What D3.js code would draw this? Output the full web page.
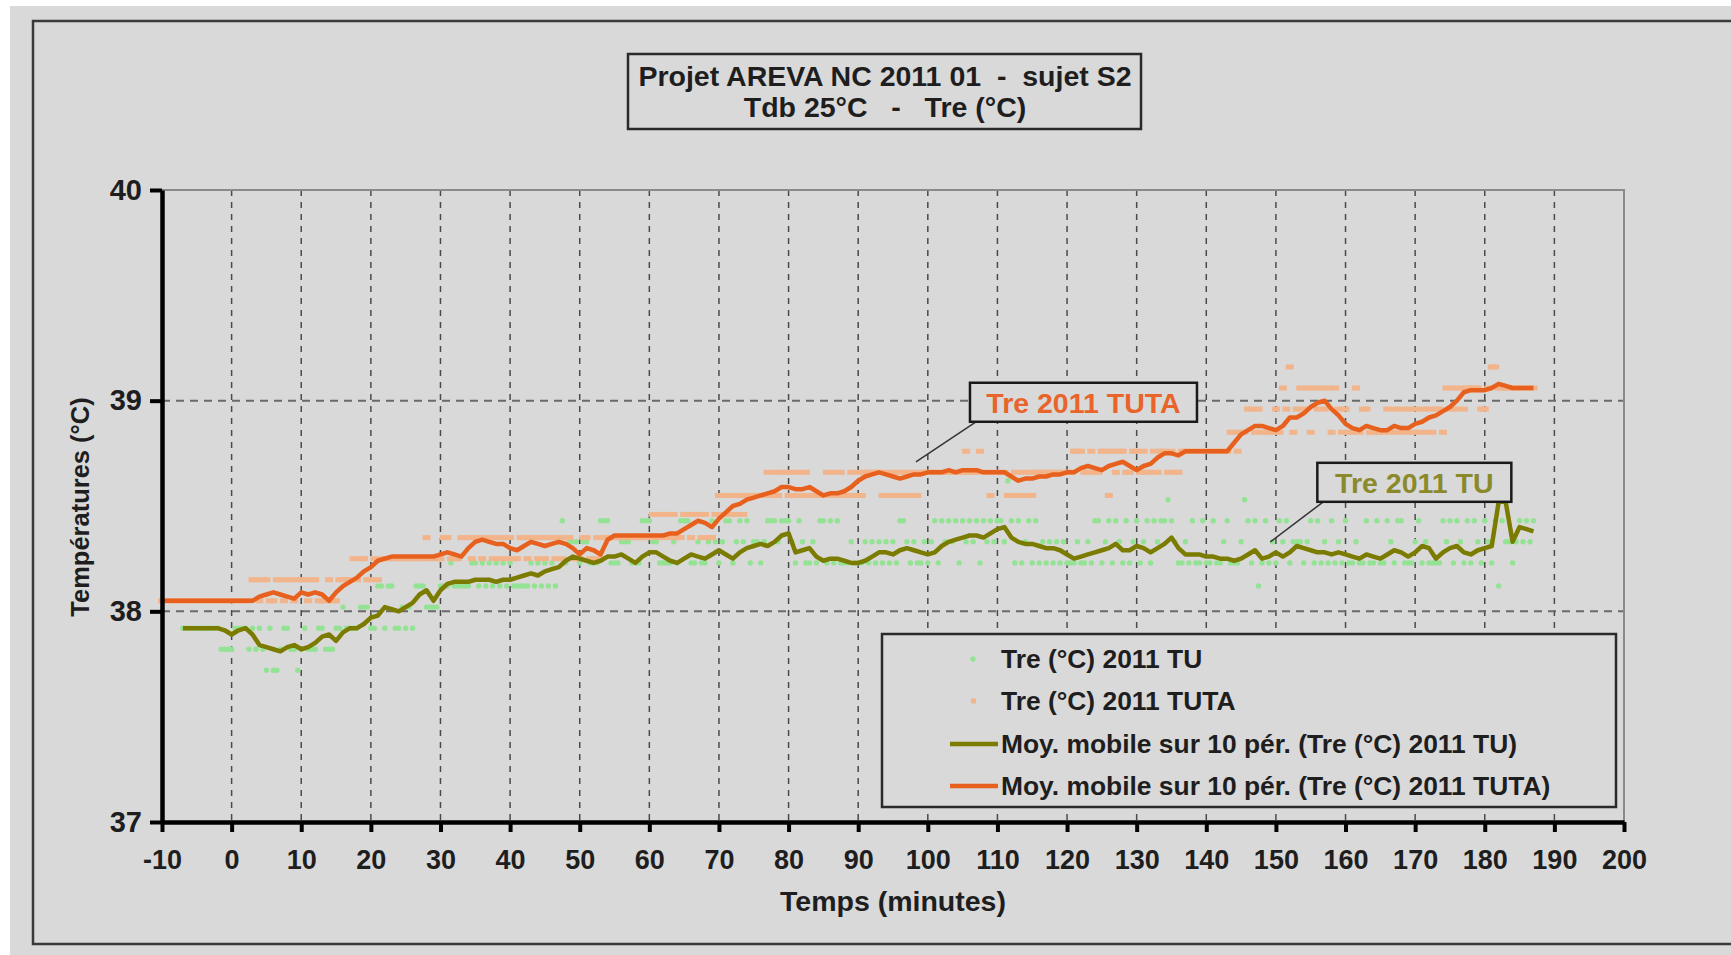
<!DOCTYPE html>
<html>
<head>
<meta charset="utf-8">
<script src="https://cdnjs.cloudflare.com/ajax/libs/d3/7.8.5/d3.min.js"></script>
<style>
  body { margin: 0; background: #fff; }
  svg text { font-family: "Liberation Sans", Arial, sans-serif; font-weight: bold; fill: #1e1e1e; }
</style>
</head>
<body>
<div id="vis"></div>
<script>
// moving averages, one value per minute
const tuAvgStart = -7;
const tuAvg = [
  37.92, 37.92, 37.92, 37.92, 37.92, 37.92, 37.91, 37.89, 37.91, 37.92,
  37.89, 37.84, 37.83, 37.82, 37.81, 37.83, 37.84, 37.82, 37.83, 37.85,
  37.88, 37.89, 37.86, 37.90, 37.92, 37.92, 37.94, 37.97, 37.98, 38.02,
  38.01, 38.00, 38.02, 38.04, 38.08, 38.10, 38.05, 38.10, 38.13, 38.14,
  38.14, 38.14, 38.15, 38.15, 38.15, 38.14, 38.15, 38.15, 38.16, 38.17,
  38.18, 38.17, 38.19, 38.20, 38.21, 38.24, 38.26, 38.25, 38.24, 38.23,
  38.24, 38.26, 38.26, 38.27, 38.25, 38.23, 38.26, 38.28, 38.28, 38.26,
  38.24, 38.23, 38.25, 38.27, 38.26, 38.25, 38.27, 38.29, 38.27, 38.25,
  38.28, 38.30, 38.31, 38.32, 38.31, 38.33, 38.36, 38.37, 38.28, 38.29,
  38.30, 38.26, 38.24, 38.25, 38.25, 38.24, 38.23, 38.23, 38.24, 38.26,
  38.28, 38.28, 38.27, 38.29, 38.30, 38.29, 38.28, 38.27, 38.28, 38.31,
  38.33, 38.34, 38.35, 38.36, 38.36, 38.35, 38.37, 38.39, 38.40, 38.35,
  38.33, 38.32, 38.32, 38.31, 38.30, 38.30, 38.29, 38.27, 38.25, 38.26,
  38.27, 38.28, 38.29, 38.30, 38.32, 38.29, 38.29, 38.31, 38.30, 38.28,
  38.30, 38.32, 38.35, 38.30, 38.27, 38.27, 38.27, 38.26, 38.26, 38.25,
  38.25, 38.24, 38.25, 38.27, 38.29, 38.25, 38.26, 38.28, 38.26, 38.28,
  38.31, 38.30, 38.29, 38.28, 38.28, 38.27, 38.28, 38.27, 38.26, 38.25,
  38.27, 38.26, 38.25, 38.27, 38.29, 38.28, 38.26, 38.28, 38.31, 38.30,
  38.25, 38.28, 38.30, 38.31, 38.28, 38.27, 38.29, 38.30, 38.31, 38.52,
  38.52, 38.33, 38.40, 38.39, 38.38
];

const tutaAvgStart = -10;
const tutaAvg = [
  38.05, 38.05, 38.05, 38.05, 38.05, 38.05, 38.05, 38.05, 38.05, 38.05,
  38.05, 38.05, 38.05, 38.05, 38.07, 38.08, 38.09, 38.08, 38.07, 38.06,
  38.09, 38.08, 38.09, 38.08, 38.05, 38.09, 38.12, 38.14, 38.16, 38.19,
  38.21, 38.24, 38.25, 38.26, 38.26, 38.26, 38.26, 38.26, 38.26, 38.26,
  38.27, 38.28, 38.27, 38.26, 38.30, 38.33, 38.34, 38.33, 38.32, 38.32,
  38.30, 38.29, 38.31, 38.33, 38.32, 38.31, 38.32, 38.33, 38.32, 38.30,
  38.27, 38.30, 38.29, 38.27, 38.34, 38.36, 38.36, 38.36, 38.36, 38.36,
  38.36, 38.36, 38.36, 38.37, 38.37, 38.39, 38.41, 38.43, 38.42, 38.40,
  38.44, 38.47, 38.50, 38.51, 38.53, 38.54, 38.55, 38.56, 38.57, 38.59,
  38.59, 38.58, 38.58, 38.59, 38.57, 38.55, 38.56, 38.56, 38.57, 38.59,
  38.62, 38.64, 38.65, 38.66, 38.65, 38.64, 38.63, 38.64, 38.65, 38.65,
  38.66, 38.66, 38.66, 38.67, 38.66, 38.67, 38.67, 38.67, 38.66, 38.66,
  38.66, 38.66, 38.64, 38.62, 38.63, 38.63, 38.64, 38.64, 38.65, 38.65,
  38.66, 38.66, 38.68, 38.69, 38.68, 38.67, 38.69, 38.70, 38.71, 38.69,
  38.67, 38.69, 38.70, 38.73, 38.75, 38.75, 38.74, 38.76, 38.76, 38.76,
  38.76, 38.76, 38.76, 38.76, 38.80, 38.84, 38.86, 38.88, 38.88, 38.87,
  38.86, 38.88, 38.92, 38.92, 38.94, 38.97, 38.99, 39.00, 38.96, 38.93,
  38.89, 38.87, 38.86, 38.88, 38.87, 38.86, 38.86, 38.88, 38.87, 38.87,
  38.89, 38.90, 38.92, 38.93, 38.95, 38.97, 39.00, 39.04, 39.05, 39.05,
  39.05, 39.06, 39.08, 39.07, 39.06, 39.06, 39.06, 39.06
];

// raw readings, one every half minute
const rawStep = 0.5;
const tuRawStart = -7;
const tuRaw = [
  37.92, 37.92, 37.92, 37.92, 37.92, 37.92, 37.92, 37.92, 37.92, 37.92,
  37.92, 37.82, 37.82, 37.82, 37.82, 37.92, 37.92, 37.92, 37.92, 37.82,
  37.92, 37.82, 37.92, 37.82, 37.72, 37.92, 37.72, 37.72, 37.82, 37.92,
  37.92, 37.82, 37.82, 37.72, 37.82, 37.92, 37.82, 37.82, 37.82, 37.92,
  37.92, 37.82, 37.82, 37.82, 37.92, 37.92, 38.02, 37.92, 37.92, 37.92,
  37.92, 38.02, 38.02, 38.02, 37.92, 37.92, 38.12, 38.12, 37.92, 38.12,
  38.12, 37.92, 37.92, 38.02, 37.92, 38.02, 37.92, 38.12, 38.12, 38.12,
  38.02, 38.02, 38.02, 38.02, 38.12, 38.12, 38.12, 38.23, 38.12, 38.12,
  38.12, 38.12, 38.12, 38.23, 38.23, 38.12, 38.23, 38.12, 38.23, 38.12,
  38.23, 38.12, 38.23, 38.12, 38.23, 38.12, 38.12, 38.12, 38.12, 38.12,
  38.23, 38.12, 38.23, 38.12, 38.23, 38.12, 38.23, 38.12, 38.33, 38.43,
  38.23, 38.33, 38.33, 38.33, 38.23, 38.33, 38.33, 38.23, 38.23, 38.23,
  38.43, 38.43, 38.43, 38.23, 38.23, 38.23, 38.33, 38.33, 38.33, 38.23,
  38.23, 38.23, 38.43, 38.43, 38.43, 38.33, 38.33, 38.23, 38.23, 38.23,
  38.23, 38.33, 38.23, 38.43, 38.43, 38.43, 38.23, 38.23, 38.33, 38.23,
  38.23, 38.33, 38.43, 38.33, 38.23, 38.33, 38.43, 38.43, 38.23, 38.33,
  38.43, 38.33, 38.43, 38.23, 38.33, 38.33, 38.23, 38.33, 38.43, 38.43,
  38.43, 38.33, 38.43, 38.43, 38.43, 38.33, 38.23, 38.43, 38.33, 38.23,
  38.23, 38.33, 38.23, 38.43, 38.43, 38.23, 38.43, 38.23, 38.43, 38.23,
  38.23, 38.23, 38.33, 38.23, 38.23, 38.23, 38.33, 38.23, 38.33, 38.23,
  38.33, 38.23, 38.33, 38.23, 38.33, 38.23, 38.43, 38.43, 38.33, 38.23,
  38.33, 38.23, 38.23, 38.33, 38.23, 38.33, 38.43, 38.23, 38.43, 38.33,
  38.43, 38.33, 38.43, 38.23, 38.43, 38.33, 38.43, 38.33, 38.43, 38.23,
  38.43, 38.33, 38.43, 38.33, 38.43, 38.43, 38.33, 38.62, 38.43, 38.23,
  38.43, 38.23, 38.33, 38.43, 38.23, 38.43, 38.23, 38.33, 38.23, 38.33,
  38.23, 38.33, 38.23, 38.33, 38.23, 38.23, 38.23, 38.33, 38.23, 38.23,
  38.33, 38.23, 38.43, 38.43, 38.23, 38.33, 38.43, 38.23, 38.43, 38.33,
  38.23, 38.43, 38.23, 38.33, 38.43, 38.23, 38.33, 38.43, 38.23, 38.43,
  38.33, 38.43, 38.43, 38.53, 38.43, 38.33, 38.23, 38.23, 38.33, 38.23,
  38.43, 38.23, 38.23, 38.43, 38.23, 38.23, 38.43, 38.23, 38.23, 38.33,
  38.43, 38.23, 38.23, 38.23, 38.33, 38.53, 38.43, 38.23, 38.43, 38.12,
  38.23, 38.43, 38.23, 38.33, 38.23, 38.43, 38.33, 38.43, 38.23, 38.33,
  38.33, 38.33, 38.23, 38.33, 38.43, 38.23, 38.43, 38.23, 38.33, 38.23,
  38.43, 38.23, 38.33, 38.23, 38.43, 38.23, 38.23, 38.33, 38.23, 38.23,
  38.43, 38.23, 38.23, 38.43, 38.23, 38.23, 38.43, 38.33, 38.23, 38.43,
  38.43, 38.23, 38.23, 38.23, 38.33, 38.43, 38.23, 38.33, 38.23, 38.23,
  38.23, 38.23, 38.43, 38.33, 38.43, 38.23, 38.43, 38.33, 38.23, 38.43,
  38.23, 38.43, 38.33, 38.23, 38.43, 38.33, 38.23, 38.43, 38.12, 38.43,
  38.33, 38.33, 38.23, 38.33, 38.43, 38.33, 38.43, 38.33, 38.43
];

const tutaRawStart = -10;
const tutaRaw = [
  38.05, 38.05, 38.05, 38.05, 38.05, 38.05, 38.05, 38.05, 38.05, 38.05,
  38.05, 38.05, 38.05, 38.05, 38.05, 38.05, 38.05, 38.05, 38.05, 38.05,
  38.05, 38.05, 38.05, 38.05, 38.05, 38.05, 38.15, 38.15, 38.05, 38.15,
  38.15, 38.05, 38.05, 38.15, 38.15, 38.05, 38.15, 38.15, 38.05, 38.15,
  38.15, 38.15, 38.05, 38.15, 38.15, 38.05, 38.05, 38.05, 38.15, 38.05,
  38.05, 38.15, 38.15, 38.15, 38.15, 38.25, 38.15, 38.25, 38.25, 38.15,
  38.15, 38.25, 38.15, 38.25, 38.25, 38.25, 38.25, 38.25, 38.25, 38.25,
  38.25, 38.25, 38.25, 38.25, 38.25, 38.25, 38.35, 38.25, 38.25, 38.25,
  38.25, 38.35, 38.35, 38.25, 38.25, 38.25, 38.35, 38.35, 38.35, 38.25,
  38.35, 38.35, 38.25, 38.35, 38.35, 38.25, 38.35, 38.25, 38.35, 38.25,
  38.35, 38.25, 38.25, 38.35, 38.35, 38.25, 38.35, 38.35, 38.25, 38.35,
  38.25, 38.35, 38.35, 38.25, 38.35, 38.25, 38.35, 38.35, 38.25, 38.25,
  38.25, 38.35, 38.35, 38.25, 38.25, 38.35, 38.25, 38.35, 38.35, 38.35,
  38.35, 38.35, 38.35, 38.35, 38.35, 38.35, 38.35, 38.35, 38.35, 38.35,
  38.35, 38.46, 38.35, 38.46, 38.35, 38.46, 38.35, 38.46, 38.35, 38.35,
  38.46, 38.46, 38.35, 38.46, 38.46, 38.35, 38.46, 38.35, 38.35, 38.46,
  38.55, 38.46, 38.55, 38.46, 38.55, 38.46, 38.55, 38.46, 38.55, 38.55,
  38.55, 38.55, 38.55, 38.55, 38.66, 38.55, 38.66, 38.55, 38.66, 38.66,
  38.55, 38.66, 38.55, 38.66, 38.55, 38.66, 38.55, 38.55, 38.55, 38.55,
  38.55, 38.66, 38.55, 38.66, 38.55, 38.66, 38.55, 38.55, 38.66, 38.55,
  38.66, 38.55, 38.66, 38.66, 38.66, 38.66, 38.66, 38.55, 38.66, 38.55,
  38.66, 38.55, 38.66, 38.55, 38.66, 38.55, 38.66, 38.55, 38.66, 38.66,
  38.66, 38.66, 38.66, 38.66, 38.66, 38.66, 38.66, 38.66, 38.66, 38.66,
  38.66, 38.76, 38.66, 38.66, 38.66, 38.76, 38.66, 38.66, 38.55, 38.66,
  38.66, 38.66, 38.66, 38.55, 38.55, 38.66, 38.55, 38.66, 38.55, 38.66,
  38.55, 38.66, 38.66, 38.66, 38.66, 38.66, 38.66, 38.66, 38.66, 38.66,
  38.66, 38.66, 38.76, 38.76, 38.76, 38.66, 38.66, 38.76, 38.66, 38.66,
  38.76, 38.76, 38.55, 38.76, 38.66, 38.76, 38.76, 38.66, 38.66, 38.76,
  38.76, 38.66, 38.76, 38.66, 38.66, 38.76, 38.66, 38.76, 38.76, 38.66,
  38.76, 38.66, 38.66, 38.76, 38.76, 38.76, 38.76, 38.76, 38.76, 38.76,
  38.76, 38.76, 38.76, 38.76, 38.76, 38.76, 38.76, 38.85, 38.85, 38.76,
  38.85, 38.85, 38.96, 38.96, 38.85, 38.96, 38.85, 38.85, 38.85, 38.85,
  38.96, 38.85, 39.06, 38.96, 39.16, 38.85, 38.96, 39.06, 38.96, 39.06,
  38.85, 39.06, 38.96, 39.06, 38.96, 39.06, 38.85, 39.06, 38.96, 38.85,
  38.96, 38.85, 38.85, 39.06, 38.85, 38.96, 38.96, 38.85, 38.85, 38.85,
  38.85, 38.85, 38.96, 38.85, 38.96, 38.85, 38.96, 38.85, 38.96, 38.85,
  38.96, 38.85, 38.96, 38.85, 38.96, 38.85, 38.96, 38.96, 38.85, 39.06,
  38.96, 39.06, 38.96, 39.06, 38.96, 39.06, 39.06, 39.06, 39.06, 38.96,
  38.96, 39.06, 39.16, 39.16, 39.06, 39.06, 39.06, 39.06, 39.06, 39.06,
  39.06, 39.06, 39.06, 39.06, 39.06
];

const xTicks = [-10, 0, 10, 20, 30, 40, 50, 60, 70, 80, 90, 100, 110, 120, 130, 140, 150, 160, 170, 180, 190, 200];
const yTicks = [37, 38, 39, 40];
const titleLines = ["Projet AREVA NC 2011 01  -  sujet S2", "Tdb 25°C   -   Tre (°C)"];
const legendLabels = [
  "Tre (°C) 2011 TU",
  "Tre (°C) 2011 TUTA",
  "Moy. mobile sur 10 pér. (Tre (°C) 2011 TU)",
  "Moy. mobile sur 10 pér. (Tre (°C) 2011 TUTA)"
];
const calloutLabels = ["Tre 2011 TUTA", "Tre 2011 TU"];

const colors = {
  tuDot: "#94e294",
  tutaDot: "#f2b48a",
  tuLine: "#7b7b00",
  tutaLine: "#e8601e"
};

const W = 1731, H = 955;
const svg = d3.select("#vis").append("svg").attr("width", W).attr("height", H);

// background + outer frame
svg.append("rect").attr("x", 10).attr("y", 6).attr("width", W - 10).attr("height", H - 6).attr("fill", "#d9d9d9");
svg.append("rect").attr("x", 33).attr("y", 21).attr("width", W).attr("height", 923)
  .attr("fill", "none").attr("stroke", "#3a3a3a").attr("stroke-width", 2.5);

const x = d3.scaleLinear().domain([-10, 200]).range([162, 1624]);
const y = d3.scaleLinear().domain([37, 40]).range([822, 190]);

// grid
svg.append("g").selectAll("line")
  .data(xTicks.filter(t => t > -10 && t < 200))
  .enter().append("line")
  .attr("x1", d => x(d)).attr("x2", d => x(d))
  .attr("y1", y(40)).attr("y2", y(37))
  .attr("stroke", "#4a4a4a").attr("stroke-width", 1.5).attr("stroke-dasharray", "6,6");

svg.append("g").selectAll("line")
  .data(yTicks.filter(t => t > 37 && t < 40))
  .enter().append("line")
  .attr("x1", x(-10)).attr("x2", x(200))
  .attr("y1", d => y(d)).attr("y2", d => y(d))
  .attr("stroke", "#6a6a6a").attr("stroke-width", 2).attr("stroke-dasharray", "8,6");

// plot frame top / right
svg.append("path")
  .attr("d", `M${x(-10)},${y(40)}H${x(200)}V${y(37)}`)
  .attr("fill", "none").attr("stroke", "#8a8a8a").attr("stroke-width", 2);

// raw readings
const tuPts = tuRaw.map((v, i) => [tuRawStart + i * rawStep, v]);
const tutaPts = tutaRaw.map((v, i) => [tutaRawStart + i * rawStep, v]);

svg.append("g").selectAll("circle")
  .data(tuPts)
  .enter().append("circle")
  .attr("cx", d => x(d[0])).attr("cy", d => y(d[1]))
  .attr("r", 2.7)
  .attr("fill", colors.tuDot);

svg.append("g").selectAll("rect")
  .data(tutaPts)
  .enter().append("rect")
  .attr("x", d => x(d[0]) - 4).attr("y", d => y(d[1]) - 2.5)
  .attr("width", 8).attr("height", 5)
  .attr("fill", colors.tutaDot);

// moving averages
const line = d3.line().x(d => x(d[0])).y(d => y(d[1]));
const tuLinePts = tuAvg.map((v, i) => [tuAvgStart + i, v]);
const tutaLinePts = tutaAvg.map((v, i) => [tutaAvgStart + i, v]);

svg.append("path").datum(tuLinePts)
  .attr("d", line).attr("fill", "none")
  .attr("stroke", colors.tuLine).attr("stroke-width", 4.5).attr("stroke-linejoin", "round");
svg.append("path").datum(tutaLinePts)
  .attr("d", line).attr("fill", "none")
  .attr("stroke", colors.tutaLine).attr("stroke-width", 4.5).attr("stroke-linejoin", "round");

// axes
const xAxis = svg.append("g").attr("transform", `translate(0,${y(37)})`)
  .call(d3.axisBottom(x).tickValues(xTicks).tickSize(10).tickSizeOuter(0).tickFormat(d => String(d)));
const yAxis = svg.append("g").attr("transform", `translate(${x(-10)},0)`)
  .call(d3.axisLeft(y).tickValues(yTicks).tickSize(12).tickSizeOuter(0).tickFormat(d => String(d)));

[xAxis, yAxis].forEach(a => {
  a.select(".domain").attr("stroke", "#000").attr("stroke-width", 4.5);
  a.selectAll(".tick line").attr("stroke", "#000").attr("stroke-width", 4);
  a.selectAll(".tick text").attr("fill", "#1e1e1e")
    .style("font-family", "'Liberation Sans', Arial, sans-serif").style("font-weight", "bold");
});
xAxis.selectAll(".tick text").attr("font-size", 27).attr("y", 28);
yAxis.selectAll(".tick text").attr("font-size", 29).attr("x", -20);

// axis titles
svg.append("text")
  .attr("x", 893).attr("y", 911)
  .attr("text-anchor", "middle").attr("font-size", 28.5)
  .text("Temps (minutes)");
svg.append("text")
  .attr("transform", "translate(89,507) rotate(-90)")
  .attr("text-anchor", "middle").attr("font-size", 25.5)
  .text("Températures (°C)");

// title box
svg.append("rect").attr("x", 628).attr("y", 54).attr("width", 513).attr("height", 75)
  .attr("fill", "#d9d9d9").attr("stroke", "#2a2a2a").attr("stroke-width", 2.5);
titleLines.forEach((t, i) => {
  svg.append("text")
    .attr("x", 885).attr("y", 86 + i * 31)
    .attr("text-anchor", "middle").attr("font-size", 28.5)
    .style("white-space", "pre")
    .text(t);
});

// legend
const lg = svg.append("g");
lg.append("rect").attr("x", 882).attr("y", 634).attr("width", 734).attr("height", 173)
  .attr("fill", "#d9d9d9").attr("stroke", "#2a2a2a").attr("stroke-width", 2.5);
const rowY = [659, 701, 744, 786];
legendLabels.forEach((label, i) => {
  const cy = rowY[i];
  if (i === 0) {
    lg.append("circle").attr("cx", 973).attr("cy", cy).attr("r", 2.7).attr("fill", colors.tuDot);
  } else if (i === 1) {
    lg.append("rect").attr("x", 971).attr("y", cy - 2.5).attr("width", 5).attr("height", 5).attr("fill", colors.tutaDot);
  } else {
    lg.append("line").attr("x1", 950).attr("x2", 998).attr("y1", cy).attr("y2", cy)
      .attr("stroke", i === 2 ? colors.tuLine : colors.tutaLine).attr("stroke-width", 4.5);
  }
  lg.append("text").attr("x", 1001).attr("y", cy + 9).attr("font-size", 26.4).text(label);
});

// callouts: leader from a point on the curve up to a boxed label
function callout(label, t, v, color, dx, boxW) {
  const px = x(t), py = y(v);
  const bx = px + dx, by = py - 79;
  svg.append("line")
    .attr("x1", px).attr("y1", py).attr("x2", bx + 6).attr("y2", by + 39)
    .attr("stroke", "#333").attr("stroke-width", 1.5);
  svg.append("rect").attr("x", bx).attr("y", by).attr("width", boxW).attr("height", 39)
    .attr("fill", "#d9d9d9").attr("stroke", "#1a1a1a").attr("stroke-width", 2.5);
  svg.append("text").attr("x", bx + boxW / 2).attr("y", by + 30)
    .attr("text-anchor", "middle").attr("font-size", 28.5)
    .style("fill", color).text(label);
}
callout(calloutLabels[0], 98.3, 38.71, "#e8642a", 54, 227);
callout(calloutLabels[1], 149.2, 38.33, "#8a8a2c", 47, 194);
</script>
</body>
</html>
